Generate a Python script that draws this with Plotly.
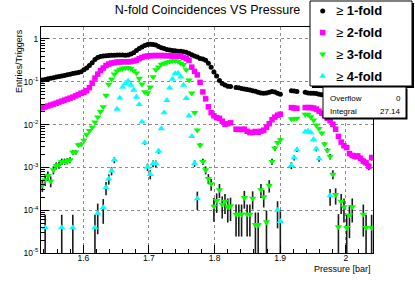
import math
import plotly.graph_objects as go

# ---------------- data ----------------
X_MIN, X_MAX, N_BINS = 1.5355, 2.0415, 120   # histogram binning of Pressure [bar]

ONE_FOLD = [
    0.110, 0.113, 0.117, 0.121, 0.125, 0.129, 0.133, 0.137, 0.141, 0.146,
    0.151, 0.156, 0.160, 0.165, 0.171, 0.19, 0.21, 0.24, 0.28, 0.33,
    0.37, 0.39, 0.40, 0.406, 0.41, 0.415, 0.417, 0.42, 0.42, 0.42,
    0.417, 0.42, 0.445, 0.48, 0.54, 0.60, 0.65, 0.70, 0.74, 0.75,
    0.74, 0.72, 0.67, 0.62, 0.60, 0.57, 0.55, 0.54, 0.53, 0.52,
    0.515, 0.50, 0.49, 0.46, 0.43, 0.40, 0.38, 0.35, 0.34, 0.32,
    0.27, 0.22, 0.17, 0.136, 0.107, 0.091, 0.084, 0.079, 0.078, None,
    0.074, 0.073, 0.070, 0.068, 0.066, 0.064, 0.062, 0.060, 0.057, 0.055,
    0.054, 0.055, 0.057, 0.059, 0.058, 0.054, 0.051, None, None, None,
    0.062, 0.061, 0.059, None, None, 0.057, 0.055, 0.054, 0.054, 0.053,
    0.051, 0.050, 0.050, 0.049, 0.049, 0.048, 0.048, 0.047, 0.047, 0.046,
    0.046, 0.045, 0.045, 0.044, 0.044, 0.044, 0.043, 0.043, 0.043, 0.042,
]

TWO_FOLD = [
    0.0246, 0.0258, 0.0272, 0.0286, 0.030, 0.0316, 0.0335, 0.0353, 0.0373, 0.0394,
    0.0415, 0.0438, 0.0468, 0.050, 0.054, 0.057, 0.062, 0.073, 0.093, 0.122,
    0.151, 0.183, 0.21, 0.24, 0.26, 0.274, 0.28, 0.29, 0.29, 0.294,
    0.294, 0.294, 0.296, 0.305, 0.32, 0.346, 0.37, 0.39, 0.40, 0.406,
    0.41, 0.41, 0.41, 0.41, 0.41, 0.405, 0.405, 0.40, 0.40, 0.40,
    0.395, 0.37, 0.35, 0.32, 0.22, 0.175, 0.145, 0.097, 0.058, 0.040,
    0.026, 0.019, 0.016, 0.0145, 0.014, 0.012, 0.0102, 0.0105, 0.011, None,
    0.0078, 0.0077, 0.0077, 0.0078, 0.0070, 0.0065, 0.0066, 0.0069, 0.0066, 0.0070,
    0.0074, 0.0087, 0.0105, 0.013, 0.0149, 0.0166, 0.0175, None, None, None,
    0.025, 0.0244, 0.024, None, None, 0.025, 0.025, 0.025, 0.0244, 0.023,
    0.0206, 0.0185, 0.016, 0.0141, 0.0123, 0.0102, 0.0078, 0.0053, 0.0039, 0.0032,
    0.0029, 0.0021, 0.0019, 0.0018, 0.00185, 0.00163, 0.0014, 0.00128, 0.00106, 0.0017,
]

THREE_FOLD = [
    3.9e-4, 5.1e-4, 6.4e-4, 4.8e-4, 8.7e-4, 1.1e-3, 1.14e-3, 1.37e-3, 1.37e-3, 1.41e-3,
    1.49e-3, 2.26e-3, 2.26e-3, 3.35e-3, 3.47e-3, 4.3e-3, 5.9e-3, 7.2e-3, 8.7e-3, 0.0114,
    0.015, 0.020, 0.026, 0.048, 0.087, 0.115, 0.15, 0.178, 0.195, 0.205,
    0.21, 0.21, 0.205, 0.18, 0.16, 0.12, 0.088, 0.058, 0.055, 0.075,
    0.13, 0.19, 0.22, 0.256, 0.27, 0.284, 0.297, 0.31, 0.31, 0.30,
    0.27, 0.25, 0.19, 0.11, 0.054, 0.019, 0.0074, 0.0033, 0.00137, 8.7e-4,
    5.5e-4, 4.1e-4, 1.23e-4, 1.67e-4, 3.0e-4, 1.37e-4, 1.6e-4, 1.2e-4, 1.26e-4, None,
    8.0e-5, 8.0e-5, 8.0e-5, 1.96e-4, 8.0e-5, 8.0e-5, 1.9e-4, 4.6e-5, 4.6e-5, 3.0e-4,
    2.05e-4, 5.3e-5, 3.8e-4, 1.37e-3, 2.8e-3, 3.77e-3, 4.4e-3, None, None, None,
    0.0136, 0.0136, 0.014, None, None, 0.0173, 0.0173, 0.0151, 0.0127, 0.0097,
    0.0081, 0.0063, 0.0035, 0.0025, 0.0018, 6.9e-4, 2.3e-4, 4.1e-5, 1.6e-4, 1.2e-4,
    3.9e-5, 7.7e-5, 1.2e-4, None, None, None, 8.0e-5, 3.9e-5, None, 3.9e-5,
]

FOUR_FOLD = [
    None, 3.9e-5, None, None, None, None, None, 3.9e-5, None, None,
    None, 3.9e-5, None, None, None, None, None, None, None, 3.9e-5,
    8.5e-5, None, 1.15e-4, 3.4e-4, 5.4e-4, 8.3e-4, 1.5e-3, 0.023, 0.042, 0.075,
    0.092, 0.104, 0.084, 0.064, 0.044, 0.0296, 0.0116, 3.77e-3, 1.02e-3, 6.9e-4,
    1.23e-3, 1.23e-3, 2.4e-3, 8.1e-3, 0.019, 0.037, 0.072, 0.116, 0.157, 0.16,
    0.131, 0.084, 0.041, 0.016, 5.3e-3, 1.25e-3, 1.86e-4, None, None, None,
    None, None, None, None, None, None, None, None, None, None,
    None, None, None, None, None, None, None, None, None, None,
    None, None, None, None, None, 1.0e-4, 5.5e-5, None, None, None,
    1.12e-3, 1.7e-3, 2.6e-3, None, None, 6.8e-3, 7.1e-3, 6.5e-3, 4.5e-3, 2.7e-3,
    1.6e-3, None, None, None, 2.2e-4, None, None, None, None, None,
    None, None, None, None, None, None, None, None, None, None,
]

SERIES_NAMES = ["1-fold", "2-fold", "3-fold", "4-fold"]
UNIT = 3.9e-5          # one entry per trigger count (sets the error bars)

X_TICKS = [1.6, 1.7, 1.8, 1.9, 2.0]
X_TICK_LABELS = ["1.6", "1.7", "1.8", "1.9", "2"]
Y_TICKS = [1e-5, 1e-4, 1e-3, 1e-2, 1e-1, 1]
Y_TICK_LABELS = ["10<sup>-5</sup>", "10<sup>-4</sup>", "10<sup>-3</sup>",
                 "10<sup>-2</sup>", "10<sup>-1</sup>", "1"]

STATS = [("Overflow", "0"), ("Integral", "27.14")]

# ---------------- figure ----------------
FONT = "Liberation Sans, Arial, Helvetica, sans-serif"
W, H = 415, 281
L, R, T, B = 41, 42, 27, 28
PW, PH = W - L - R, H - T - B


def px(X):
    return (X - L) / PW


def py(Y):
    return (H - B - Y) / PH


bin_w = (X_MAX - X_MIN) / N_BINS
centers = [X_MIN + (i + 0.5) * bin_w for i in range(N_BINS)]

styles = [
    ("circle", 5, "#000000"),
    ("square", 5.5, "#ff00ff"),
    ("triangle-down", 6.5, "#00ff00"),
    ("triangle-up", 6.5, "#00ffff"),
]

fig = go.Figure()
for vals, name, (sym, size, col) in zip([ONE_FOLD, TWO_FOLD, THREE_FOLD, FOUR_FOLD],
                                        SERIES_NAMES, styles):
    xs, ys, es = [], [], []
    for x, v in zip(centers, vals):
        if v is None:
            continue
        xs.append(x)
        ys.append(v)
        es.append(math.sqrt(v * UNIT))
    fig.add_trace(go.Scatter(
        x=xs, y=ys, mode="markers", name=name, showlegend=False,
        marker=dict(symbol=sym, size=size, color=col, line=dict(width=0)),
        error_y=dict(type="data", array=es, color="#1a1a1a", thickness=1.6, width=0),
    ))

x_minor = [round(1.54 + 0.02 * k, 2) for k in range(26)]
x_minor = [v for v in x_minor if abs(v * 10 - round(v * 10)) > 1e-6]
y_minor = [k * 10.0 ** e for e in range(-5, 1) for k in range(2, 10) if k * 10.0 ** e < 1.9]

axis_common = dict(
    ticks="inside", ticklen=8, tickwidth=1, tickcolor="black",
    showline=True, mirror=True, linecolor="black", linewidth=1,
    showgrid=True, gridcolor="#8c8c8c", griddash="dot", gridwidth=1,
    zeroline=False, tickfont=dict(family=FONT, size=8.5, color="black"),
)

fig.update_layout(
    width=W, height=H, margin=dict(l=L, r=R, t=T, b=B),
    paper_bgcolor="white", plot_bgcolor="white", showlegend=False,
    title=dict(text="N-fold Coincidences VS Pressure", x=207.5 / W, xanchor="center",
               y=1 - 9.5 / H, yanchor="middle",
               font=dict(family=FONT, size=12.5, color="black")),
    xaxis=dict(range=[X_MIN, X_MAX], tickvals=X_TICKS, ticktext=X_TICK_LABELS,
               ticklabelstandoff=-3,
               minor=dict(tickvals=x_minor, ticks="inside", ticklen=4,
                          tickcolor="black", showgrid=False),
               **axis_common),
    yaxis=dict(type="log", range=[-5, 0.28], tickvals=Y_TICKS, ticktext=Y_TICK_LABELS,
               minor=dict(tickvals=y_minor, ticks="inside", ticklen=4,
                          tickcolor="black", showgrid=False),
               **axis_common),
)

shapes = []
annotations = []

# axis titles
annotations.append(dict(text="Pressure [bar]", xref="paper", yref="paper",
                        x=1.0, y=py(269), xanchor="right", yanchor="middle",
                        showarrow=False, font=dict(family=FONT, size=9, color="black")))
annotations.append(dict(text="Entries/Triggers", xref="paper", yref="paper",
                        x=px(19), y=1.0, xanchor="center", yanchor="top", textangle=-90,
                        showarrow=False, font=dict(family=FONT, size=9, color="black")))

# legend box with shadow
LX0, LX1, LY0, LY1 = 310, 412, 1, 86
shapes.append(dict(type="rect", xref="paper", yref="paper", layer="above",
                   x0=px(LX0 + 2), x1=px(LX1 + 2), y0=py(LY0 + 2), y1=py(LY1 + 2),
                   fillcolor="black", line=dict(width=0)))
shapes.append(dict(type="rect", xref="paper", yref="paper", layer="above",
                   x0=px(LX0), x1=px(LX1), y0=py(LY0), y1=py(LY1),
                   fillcolor="white", line=dict(color="black", width=1)))

marker_paths = [
    ("circle", None),
    ("rect", None),
    ("path", "M-3.5,1.8 L3.5,1.8 L0,-3.2 Z"),
    ("path", "M-3.5,-1.8 L3.5,-1.8 L0,3.2 Z"),
]
rows = [11, 32.5, 54.3, 76]
for (kind, path), name, (sym, size, col), ry in zip(marker_paths, SERIES_NAMES, styles, rows):
    s = dict(type=kind, xref="paper", yref="paper", layer="above",
             xsizemode="pixel", ysizemode="pixel",
             xanchor=px(322.7), yanchor=py(ry),
             fillcolor=col, line=dict(width=0))
    if kind == "path":
        s["path"] = path
    else:
        h = 2.5 if kind == "circle" else 2.75
        s.update(x0=-h, x1=h, y0=-h, y1=h)
    shapes.append(s)
    annotations.append(dict(text="\u2265 <b>" + name + "</b>", xref="paper", yref="paper",
                            x=px(334), y=py(ry), xanchor="left", yanchor="middle",
                            showarrow=False, font=dict(family=FONT, size=13, color="black")))

# statistics box with shadow
SX0, SX1, SY0, SY1 = 323, 406, 87, 118
shapes.append(dict(type="rect", xref="paper", yref="paper", layer="above",
                   x0=px(SX0 + 1.5), x1=px(SX1 + 1.5), y0=py(SY0 + 1.5), y1=py(SY1 + 1.5),
                   fillcolor="black", line=dict(width=0)))
shapes.append(dict(type="rect", xref="paper", yref="paper", layer="above",
                   x0=px(SX0), x1=px(SX1), y0=py(SY0), y1=py(SY1),
                   fillcolor="white", line=dict(color="black", width=1)))
for (lab, val), ry in zip(STATS, [98, 111]):
    annotations.append(dict(text=lab, xref="paper", yref="paper", x=px(327.5), y=py(ry),
                            xanchor="left", yanchor="middle", showarrow=False,
                            font=dict(family=FONT, size=8, color="black")))
    annotations.append(dict(text=val, xref="paper", yref="paper", x=px(402.5), y=py(ry),
                            xanchor="right", yanchor="middle", showarrow=False,
                            font=dict(family=FONT, size=8, color="black")))

fig.update_layout(shapes=shapes, annotations=annotations)
fig.write_html("out.html", config={"displayModeBar": False},
               post_script="document.body.style.margin='0';document.body.style.padding='0';")
